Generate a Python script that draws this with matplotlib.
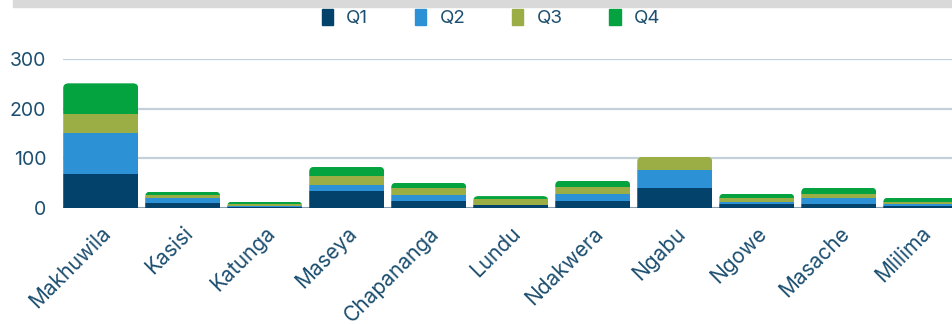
import numpy as np
import matplotlib.pyplot as plt
from matplotlib.patches import FancyBboxPatch, Patch, Rectangle

areas = ['Makhuwila', 'Kasisi', 'Katunga', 'Maseya', 'Chapananga', 'Lundu',
         'Ndakwera', 'Ngabu', 'Ngowe', 'Masache', 'Mlilima']
q1 = [68, 10, 3, 35, 15, 7, 15, 41, 9, 9, 5]
q2 = [83, 10, 2, 12, 12, 0, 14, 36, 4, 12, 4]
q3 = [38, 6, 3, 18, 13, 12, 14, 26, 8, 8, 3]
q4 = [62, 7, 5, 18, 11, 5, 12, 0, 8, 12, 9]
quarters = ['Q1', 'Q2', 'Q3', 'Q4']
colors = ['#03426a', '#2d91d5', '#9bae46', '#05a240']

text_col = '#1d4f70'
plt.rcParams['font.family'] = ['Inter', 'DejaVu Sans']

fig = plt.figure(figsize=(9.52, 3.24), dpi=100)
# grey header strip along the top edge
fig.patches.append(Rectangle((13 / 952, 1 - 7 / 324), 1, 7 / 324,
                             transform=fig.transFigure, color='#d9d9d9', zorder=0))

ax = fig.add_axes([63 / 952, 116 / 324, 907 / 952, 149 / 324])
x = np.arange(len(areas))
w = 0.915

series = [q1, q2, q3, q4]
bottom = np.zeros(len(areas))
groups = [[] for _ in areas]
for vals, col in zip(series, colors):
    bars = ax.bar(x, vals, w, bottom=bottom, color=col, zorder=3, linewidth=0)
    for i, b in enumerate(bars):
        groups[i].append(b)
    bottom += np.array(vals)

# round the top corners of each stacked column
for i, tot in enumerate(bottom):
    clip = FancyBboxPatch((x[i] - w / 2, -40), w, tot + 40,
                          boxstyle='round,pad=0,rounding_size=0.065',
                          mutation_aspect=150, transform=ax.transData,
                          facecolor='none', edgecolor='none')
    ax.add_patch(clip)
    for b in groups[i]:
        b.set_clip_path(clip)

ax.set_xlim(-0.46, 10.6)
ax.set_ylim(0, 300)
ax.set_yticks([0, 100, 200, 300])
ax.yaxis.grid(True, color='#c3d0da', linewidth=1.6, zorder=0)
ax.axhline(0, color='#7f98aa', linewidth=2, zorder=2)
for s in ax.spines.values():
    s.set_visible(False)
ax.tick_params(axis='both', length=0, colors=text_col)
ax.tick_params(axis='y', pad=12, labelsize=14)
ax.tick_params(axis='x', pad=11, labelsize=15)
ax.set_xticks(x)
ax.set_xticklabels(areas, rotation=45, ha='right', rotation_mode='anchor')

handles = [Patch(color=c, label=q) for q, c in zip(quarters, colors)]
fig.legend(handles=handles, loc='center', bbox_to_anchor=(491 / 952, 1 - 18 / 324),
           ncol=4, frameon=False, fontsize=13.5, labelcolor=text_col,
           handlelength=0.6, handleheight=1.0, handletextpad=0.7,
           columnspacing=2.5)

fig.savefig('out.png', dpi=100)
